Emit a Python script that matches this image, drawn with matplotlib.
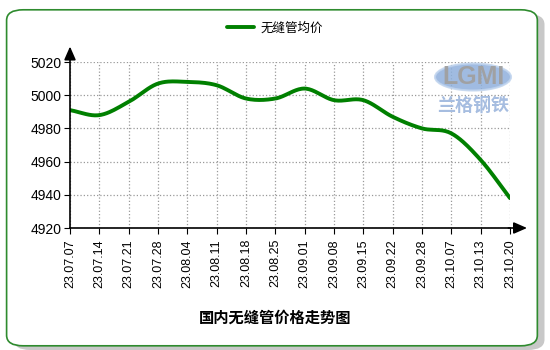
import numpy as np
import matplotlib.pyplot as plt
from matplotlib.patches import FancyBboxPatch, Ellipse

plt.rcParams['font.family'] = ['Liberation Sans', 'Noto Sans CJK SC', 'DejaVu Sans']

# 数据
dates = ['23.07.07', '23.07.14', '23.07.21', '23.07.28', '23.08.04', '23.08.11',
         '23.08.18', '23.08.25', '23.09.01', '23.09.08', '23.09.15', '23.09.22',
         '23.09.28', '23.10.07', '23.10.13', '23.10.20']
prices = [4991, 4988, 4996, 5007, 5008, 5006, 4998, 4998, 5004, 4997, 4997,
          4987, 4980, 4977, 4961, 4938]
yticks = [4920, 4940, 4960, 4980, 5000, 5020]

green = '#008000'


def smooth(xs, ys, n=20):
    # 三次 Hermite 平滑，只用于画曲线
    xs = np.asarray(xs, float)
    ys = np.asarray(ys, float)
    m = np.gradient(ys, xs)
    out_x, out_y = [], []
    for i in range(len(xs) - 1):
        t = np.linspace(0, 1, n, endpoint=False)
        h = xs[i + 1] - xs[i]
        h00 = 2 * t**3 - 3 * t**2 + 1
        h10 = t**3 - 2 * t**2 + t
        h01 = -2 * t**3 + 3 * t**2
        h11 = t**3 - t**2
        out_x.extend(xs[i] + t * h)
        out_y.extend(h00 * ys[i] + h10 * h * m[i] + h01 * ys[i + 1] + h11 * h * m[i + 1])
    out_x.append(xs[-1])
    out_y.append(ys[-1])
    return np.array(out_x), np.array(out_y)


fig = plt.figure(figsize=(5.5, 3.5), dpi=100)

# 外框 + 阴影
shadow = FancyBboxPatch((0.025, 0.0), 0.965, 0.96, boxstyle='round,pad=0,rounding_size=0.03',
                        transform=fig.transFigure, facecolor='#c8c8c8', edgecolor='none', zorder=-3)
frame = FancyBboxPatch((0.012, 0.012), 0.965, 0.96, boxstyle='round,pad=0,rounding_size=0.03',
                       transform=fig.transFigure, facecolor='white', edgecolor='#2e8b2e',
                       linewidth=1.2, zorder=-2)
fig.patches.extend([shadow, frame])

ax = fig.add_axes([70 / 550, 122 / 350, 440 / 550, 166 / 350])
ax.set_facecolor('none')

x = np.arange(len(dates))
sx, sy = smooth(x, prices)
ax.plot(sx, sy, color=green, linewidth=2.8, label='无缝管均价', solid_capstyle='round')

ax.set_xlim(0, len(dates) - 1)
ax.set_ylim(4920, 5020)
ax.set_xticks(x)
ax.set_xticklabels(dates, rotation=90, fontsize=9)
ax.set_yticks(yticks)
ax.set_yticklabels([str(v) for v in yticks], fontsize=10)
ax.tick_params(axis='both', length=4, width=0.8, color='black', pad=2)
ax.tick_params(axis='x', pad=4)
ax.grid(True, linestyle=':', color='#999999', linewidth=0.9)
for s in ['top', 'right']:
    ax.spines[s].set_visible(False)
ax.spines['left'].set_linewidth(1.2)
ax.spines['bottom'].set_linewidth(1.2)

# 坐标轴箭头
ax.annotate('', xy=(0, 1.11), xytext=(0, 0.99), xycoords='axes fraction',
            arrowprops=dict(arrowstyle='-|>,head_width=0.35,head_length=0.8', color='black', lw=1.2))
ax.annotate('', xy=(1.045, 0), xytext=(0.99, 0), xycoords='axes fraction',
            arrowprops=dict(arrowstyle='-|>,head_width=0.35,head_length=0.8', color='black', lw=1.2))

# 水印
fig.patches.append(Ellipse((473 / 550, 1 - 77 / 350), 76 / 550, 27 / 350, transform=fig.transFigure,
                           facecolor='#8fb0dc', edgecolor='#c0d4ee', linewidth=1.5, alpha=0.85, zorder=5))
fig.text(473 / 550, 1 - 77 / 350, 'LGMI', ha='center', va='center', fontsize=18, fontweight='bold',
         color='#a0a0a0', alpha=0.95, zorder=6)
fig.text(473 / 550, 1 - 106 / 350, '兰格钢铁', ha='center', va='center', fontsize=13,
         color='#a6bde0', family=['Noto Sans CJK SC'], fontweight='bold', zorder=6)

leg = fig.legend(loc='center', bbox_to_anchor=(0.5, 1 - 28 / 350), frameon=False,
                 prop={'family': ['Noto Sans CJK SC'], 'size': 9}, handlelength=2.2, handletextpad=0.5)

fig.text(0.5, 1 - 318 / 350, '国内无缝管价格走势图', ha='center', va='center', fontsize=11,
         fontweight='bold', family=['Noto Sans CJK SC'])

fig.savefig('out.png', dpi=100)
